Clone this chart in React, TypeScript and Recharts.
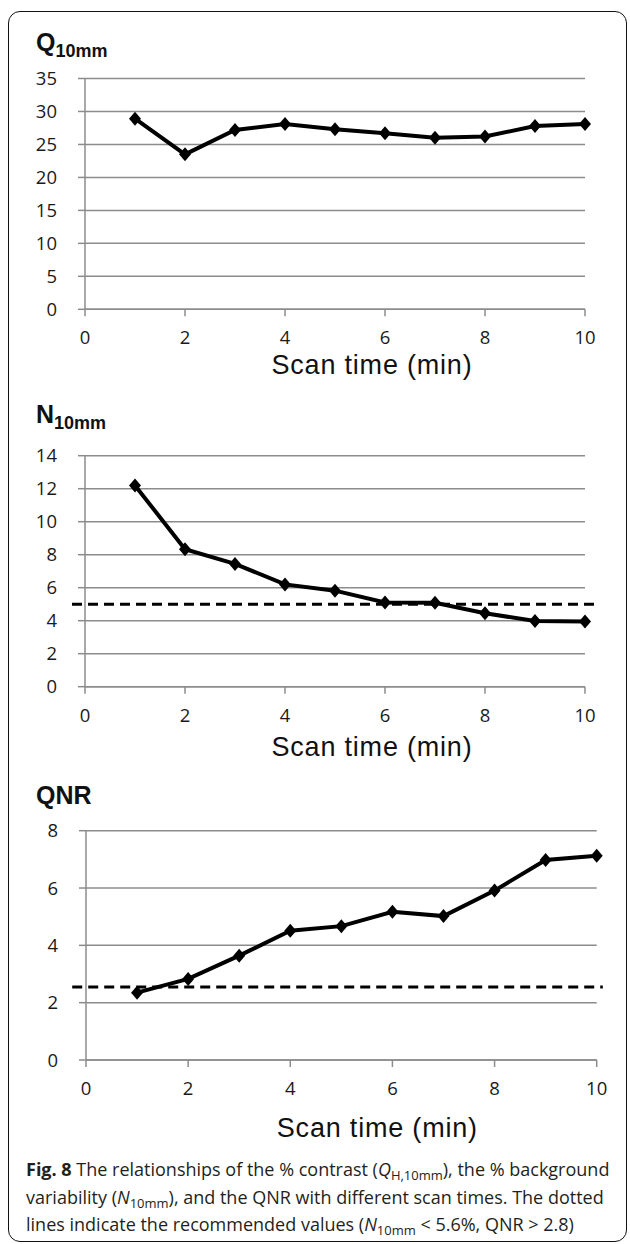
import { LineChart, Line, XAxis, YAxis, CartesianGrid, ReferenceLine } from "recharts";

const scanTimes = [1, 2, 3, 4, 5, 6, 7, 8, 9, 10];
const qValues = [28.9, 23.5, 27.2, 28.1, 27.3, 26.7, 26.0, 26.2, 27.8, 28.1];
const nValues = [12.2, 8.33, 7.44, 6.2, 5.82, 5.11, 5.09, 4.45, 3.98, 3.95];
const qnrValues = [2.35, 2.83, 3.64, 4.51, 4.67, 5.17, 5.02, 5.91, 6.98, 7.13];

const xTicks = [0, 2, 4, 6, 8, 10];
const qTicks = [0, 5, 10, 15, 20, 25, 30, 35];
const nTicks = [0, 2, 4, 6, 8, 10, 12, 14];
const qnrTicks = [0, 2, 4, 6, 8];

const nLimit = 5;
const qnrLimit = 2.55;

const GRID = "#8c8c8c";
const TICK_FONT = "'Open Sans', sans-serif";

function toRows(values: number[]) {
  return scanTimes.map((t, i) => ({ t, v: values[i] }));
}

function Diamond(props: any) {
  const { cx, cy, index } = props;
  if (cx == null || cy == null) return null;
  return (
    <polygon
      key={`d-${index}`}
      points={`${cx},${cy - 7} ${cx + 6},${cy} ${cx},${cy + 7} ${cx - 6},${cy}`}
      fill="#000"
    />
  );
}

function AxisTitle(props: any) {
  const { viewBox, dx, dy } = props;
  if (!viewBox) return null;
  return (
    <text
      x={viewBox.x + viewBox.width / 2 + dx}
      y={viewBox.y + dy}
      textAnchor="middle"
      fontFamily="'Liberation Sans', Arial, sans-serif"
      fontSize={27}
      letterSpacing={0.8}
      fill="#111"
    >
      Scan time (min)
    </text>
  );
}

interface PanelProps {
  top: number;
  plotTop: number;
  plotBottom: number;
  plotLeft: number;
  plotRight: number;
  values: number[];
  yTicks: number[];
  limit?: number;
  dashFrom?: number;
  dashTo?: number;
  labelDx: number;
  labelDy: number;
}

function Panel({
  top,
  plotTop,
  plotBottom,
  plotLeft,
  plotRight,
  values,
  yTicks,
  limit,
  dashFrom = -0.26,
  dashTo = 10.26,
  labelDx,
  labelDy,
}: PanelProps) {
  const axisH = 100;
  const height = plotBottom - top + axisH;
  const yMax = yTicks[yTicks.length - 1];
  return (
    <div style={{ position: "absolute", left: 0, top }}>
      <LineChart
        width={630}
        height={height}
        data={toRows(values)}
        margin={{ top: plotTop - top, right: 630 - plotRight, left: 0, bottom: 0 }}
      >
        <CartesianGrid vertical={false} stroke={GRID} strokeWidth={1.5} />
        <XAxis
          dataKey="t"
          type="number"
          domain={[0, 10]}
          ticks={xTicks}
          height={axisH}
          stroke={GRID}
          strokeWidth={1.5}
          tickSize={7}
          tickMargin={15}
          tick={{ fill: "#1a1a1a", fontSize: 18.5, fontFamily: TICK_FONT }}
          label={<AxisTitle dx={labelDx} dy={labelDy} />}
        />
        <YAxis
          type="number"
          domain={[0, yMax]}
          ticks={yTicks}
          width={plotLeft}
          stroke={GRID}
          strokeWidth={1.5}
          tickSize={7}
          tickMargin={21}
          tick={{ fill: "#1a1a1a", fontSize: 18.5, fontFamily: TICK_FONT }}
        />
        {limit !== undefined && (
          <ReferenceLine
            segment={[
              { x: dashFrom, y: limit },
              { x: dashTo, y: limit },
            ]}
            ifOverflow="visible"
            stroke="#000"
            strokeWidth={3}
            strokeDasharray="10 6"
          />
        )}
        <Line
          type="linear"
          dataKey="v"
          stroke="#000"
          strokeWidth={4}
          dot={Diamond}
          activeDot={false}
          isAnimationActive={false}
        />
      </LineChart>
    </div>
  );
}

function Title({ top, main, sub }: { top: number; main: string; sub?: string }) {
  return (
    <div
      style={{
        position: "absolute",
        left: 36,
        top,
        fontFamily: "'Liberation Sans', Arial, sans-serif",
        fontWeight: "bold",
        fontSize: 25,
        color: "#111",
        lineHeight: "28px",
        whiteSpace: "nowrap",
      }}
    >
      {main}
      {sub && (
        <span style={{ fontSize: 18, position: "relative", top: 6 }}>{sub}</span>
      )}
    </div>
  );
}

export default function App() {
  const capStyle: React.CSSProperties = {
    position: "absolute",
    left: 26,
    top: 1157,
    width: 600,
    fontFamily: "'Open Sans', sans-serif",
    fontSize: 18,
    lineHeight: "25.7px",
    color: "#231f20",
    whiteSpace: "nowrap",
  };
  const subStyle: React.CSSProperties = { fontSize: 13, position: "relative", top: 4 };
  return (
    <div
      style={{
        position: "absolute",
        left: 0,
        top: 0,
        width: 630,
        height: 1244,
        background: "#fff",
        overflow: "hidden",
      }}
    >
      <div
        style={{
          position: "absolute",
          left: 8,
          top: 11,
          width: 617,
          height: 1229,
          border: "1.5px solid #111",
          borderRadius: 12,
        }}
      />
      <Title top={28} main="Q" sub="10mm" />
      <Panel
        top={60}
        plotTop={78.5}
        plotBottom={309.3}
        plotLeft={85}
        plotRight={585}
        values={qValues}
        yTicks={qTicks}
        labelDx={37}
        labelDy={65}
      />
      <Title top={400} main="N" sub="10mm" />
      <Panel
        top={440}
        plotTop={455.7}
        plotBottom={686.7}
        plotLeft={85}
        plotRight={585}
        values={nValues}
        yTicks={nTicks}
        limit={nLimit}
        labelDx={37}
        labelDy={69}
      />
      <Title top={781} main="QNR" />
      <Panel
        top={815}
        plotTop={830.7}
        plotBottom={1060}
        plotLeft={86}
        plotRight={596.7}
        values={qnrValues}
        yTicks={qnrTicks}
        limit={qnrLimit}
        dashFrom={-0.27}
        dashTo={10.12}
        labelDx={36}
        labelDy={77}
      />
      <div style={capStyle}>
        <div>
          <b>Fig. 8</b> The relationships of the % contrast (<i>Q</i>
          <span style={subStyle}>H,10mm</span>), the % background
        </div>
        <div>
          variability (<i>N</i>
          <span style={subStyle}>10mm</span>), and the QNR with different scan times. The dotted
        </div>
        <div>
          lines indicate the recommended values (<i>N</i>
          <span style={subStyle}>10mm</span> &lt; 5.6%, QNR &gt; 2.8)
        </div>
      </div>
    </div>
  );
}
